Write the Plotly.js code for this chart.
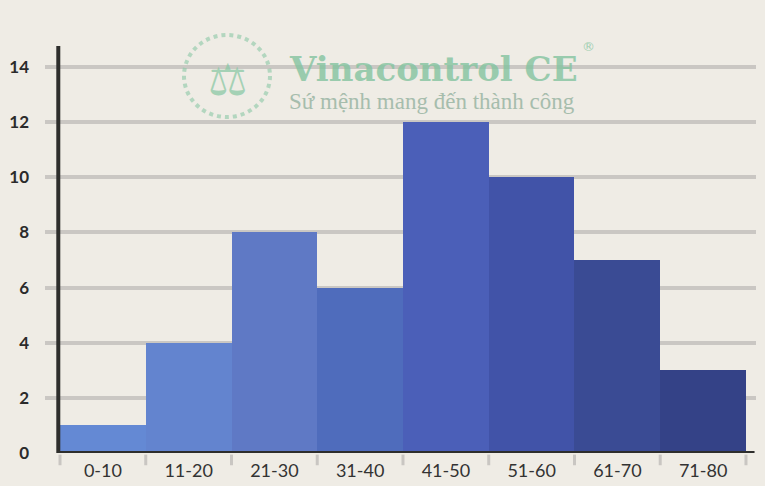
<!DOCTYPE html>
<html>
<head>
<meta charset="utf-8">
<script src="https://cdn.plot.ly/plotly-3.0.1.min.js"></script>
<style>html,body{margin:0;padding:0;background:#efece5;}#chart{width:765px;height:486px;}</style>
</head>
<body>
<div id="chart"></div>
<script>
var categories = ["0-10","11-20","21-30","31-40","41-50","51-60","61-70","71-80"];
var counts = [1, 4, 8, 6, 12, 10, 7, 3];
var barColors = ["#6489d4","#6384cf","#5f79c5","#4f6cbc","#4b5fb8","#4153a8","#3a4b94","#344287"];
var yTicks = [0, 2, 4, 6, 8, 10, 12, 14];

var idx = categories.map(function(c, i){ return i; });

var trace = {
  type: "bar",
  x: idx,
  y: counts,
  width: 1,
  marker: {color: barColors, line: {width: 0}},
  hoverinfo: "skip"
};

var shapes = [];
// tick marks at bin boundaries
for (var b = 0; b <= categories.length; b++) {
  shapes.push({type:"line", xref:"x", yref:"paper", x0:b-0.5, x1:b-0.5, y0:-0.004, y1:-0.03,
    line:{color:"#c9c6c2", width:3}, layer:"above"});
}
// x axis line
shapes.push({type:"line", xref:"x", yref:"y", x0:-0.53, x1:categories.length-0.4, y0:0, y1:0,
  line:{color:"#2e2e2c", width:4}, layer:"above"});
// y axis line
shapes.push({type:"line", xref:"x", yref:"y", x0:-0.52, x1:-0.52, y0:-0.05, y1:14.76,
  line:{color:"#2e2e2c", width:4}, layer:"above"});
// watermark logo ring
shapes.push({type:"circle", xref:"paper", yref:"paper", x0:(184-45)/711, x1:(270-45)/711, y0:(486-33-117)/408, y1:(486-33-35)/408,
  line:{color:"#8cc9a6", width:4, dash:"dot"}, opacity:0.6, layer:"above"});

var layout = {
  width: 765, height: 486,
  margin: {l: 45, r: 9, t: 45, b: 33},
  paper_bgcolor: "#efece5",
  plot_bgcolor: "#efece5",
  showlegend: false,
  bargap: 0,
  xaxis: {
    range: [-0.675, 7.617],
    tickvals: idx,
    ticktext: categories,
    ticks: "",
    showgrid: false,
    zeroline: false,
    showline: false,
    tickfont: {family: "Lato, 'Noto Sans', sans-serif", size: 18, color: "#333333"},
    ticklabelstandoff: 5
  },
  yaxis: {
    range: [0, 14.8],
    tickvals: yTicks,
    ticks: "",
    showgrid: true,
    gridcolor: "#cac7c3",
    gridwidth: 4,
    zeroline: false,
    showline: false,
    tickfont: {family: "Lato, 'Noto Sans', sans-serif", size: 17, color: "#2b2b2b", weight: 700},
    ticklabelstandoff: 15
  },
  shapes: shapes,
  annotations: [
    {xref:"paper", yref:"paper", x:(206-45)/711, y:(453-52)/408, text:"⚖", showarrow:false,
     font:{family:"DejaVu Sans", size:44, color:"#8cc9a6"}, opacity:0.75},
    {xref:"paper", yref:"paper", x:(287-45)/711, y:(453-69)/408, xanchor:"left", yanchor:"middle",
     text:"<b>Vinacontrol CE</b>", showarrow:false,
     font:{family:"'DejaVu Serif', 'Liberation Serif', serif", size:34, color:"#84c4a0"}, opacity:0.8},
    {xref:"paper", yref:"paper", x:(580-45)/711, y:(453-47)/408, xanchor:"left", yanchor:"middle",
     text:"®", showarrow:false,
     font:{family:"'DejaVu Sans', sans-serif", size:13, color:"#8cc9a6"}, opacity:0.8},
    {xref:"paper", yref:"paper", x:(287-45)/711, y:(453-102)/408, xanchor:"left", yanchor:"middle",
     text:"Sứ mệnh mang đến thành công", showarrow:false,
     font:{family:"'Liberation Serif', 'DejaVu Serif', serif", size:23, color:"#9fb9a8"}, opacity:0.9}
  ]
};

Plotly.newPlot("chart", [trace], layout, {staticPlot: true, displayModeBar: false});
</script>
</body>
</html>
